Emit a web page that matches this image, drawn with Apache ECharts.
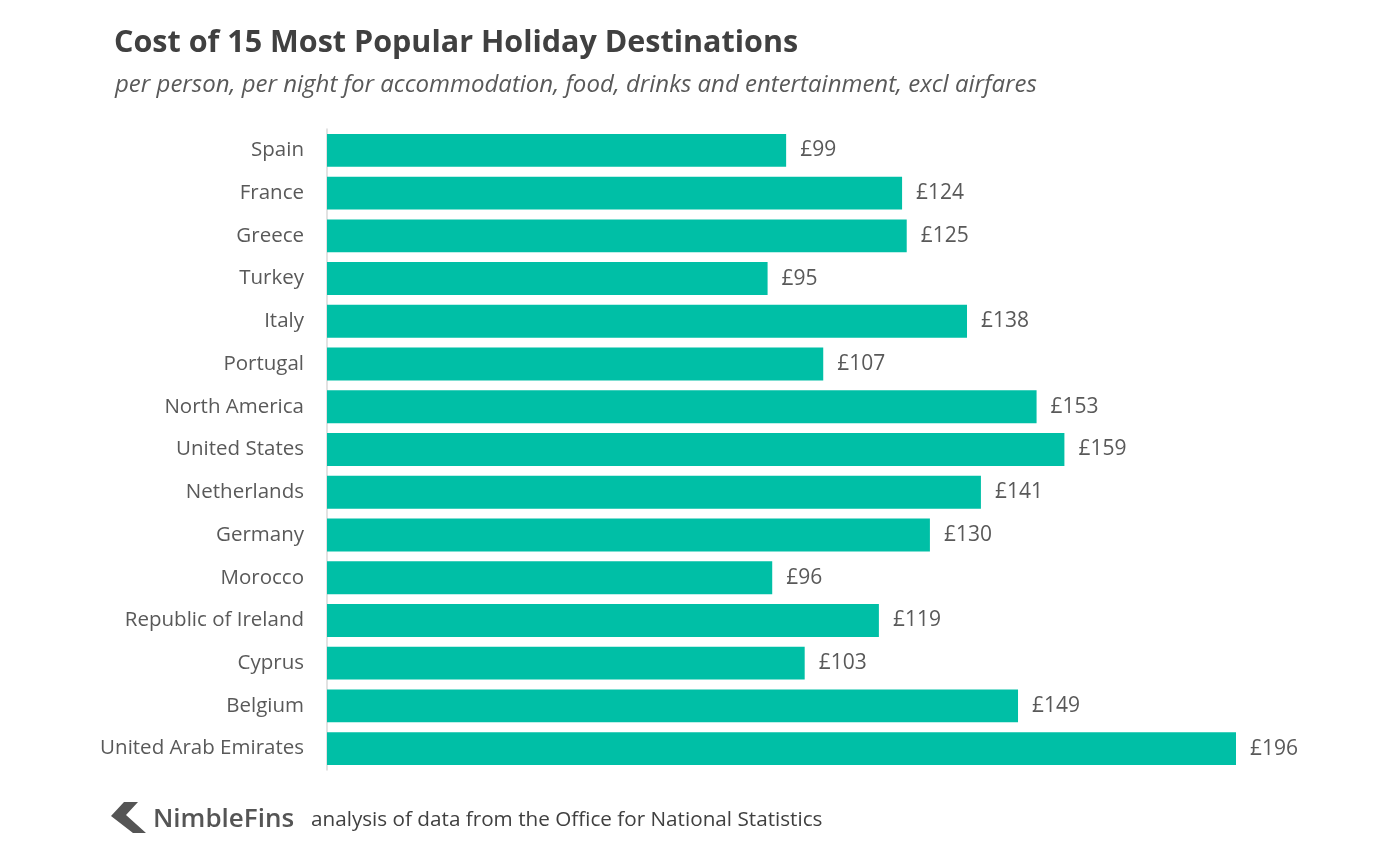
<!DOCTYPE html>
<html>
<head>
<meta charset="utf-8">
<style>
  html, body { margin: 0; padding: 0; background: #fff; }
  #chart { width: 1400px; height: 852px; }
</style>
<script src="https://cdn.jsdelivr.net/npm/echarts@6/dist/echarts.min.js"></script>
</head>
<body>
<div id="chart"></div>
<script>
  // destinations, top to bottom as shown
  var countries = ['Spain', 'France', 'Greece', 'Turkey', 'Italy', 'Portugal', 'North America',
    'United States', 'Netherlands', 'Germany', 'Morocco', 'Republic of Ireland', 'Cyprus',
    'Belgium', 'United Arab Emirates'];
  // £ per person per night
  var costs = [99, 124, 125, 95, 138, 107, 153, 159, 141, 130, 96, 119, 103, 149, 196];

  var font = '"Open Sans", Lato, sans-serif';
  var myChart = echarts.init(document.getElementById('chart'));

  var option = {
    backgroundColor: '#fff',
    animation: false,
    title: [{
      text: 'Cost of 15 Most Popular Holiday Destinations',
      left: 109,
      top: 23,
      textStyle: { color: '#404040', fontSize: 30.5, fontWeight: 'bold', fontFamily: font }
    }, {
      text: 'per person, per night for accommodation, food, drinks and entertainment, excl airfares',
      left: 110,
      top: 68,
      textStyle: { color: '#595959', fontSize: 24, fontStyle: 'italic', fontWeight: 'normal', fontFamily: font }
    }],
    grid: {
      left: 327,
      top: 129,
      width: 909,
      height: 641,
      containLabel: false
    },
    xAxis: {
      type: 'value',
      min: 0,
      max: 196,
      show: false
    },
    yAxis: {
      type: 'category',
      data: countries,
      inverse: true,
      axisLine: { show: true, lineStyle: { color: '#d9d9d9', width: 1.5 } },
      axisTick: { show: false },
      axisLabel: {
        color: '#595959',
        fontSize: 20.5,
        fontFamily: font,
        margin: 23
      }
    },
    series: [{
      type: 'bar',
      data: costs,
      barWidth: '77%',
      itemStyle: { color: '#00bfa6' },
      label: {
        show: true,
        position: 'right',
        distance: 14,
        color: '#595959',
        fontSize: 21,
        fontFamily: font,
        formatter: function (p) { return '£' + p.value; }
      }
    }],
    graphic: [{
      type: 'polygon',
      shape: { points: [[124, 802], [138, 802], [126, 815], [146, 833], [133, 833], [111, 816]] },
      style: { fill: '#555' }
    }, {
      type: 'text',
      left: 153,
      top: 807,
      style: { text: 'NimbleFins', fill: '#555', font: '600 26px ' + font }
    }, {
      type: 'text',
      left: 311,
      top: 810,
      style: { text: 'analysis of data from the Office for National Statistics', fill: '#404040', font: '20.7px ' + font }
    }]
  };

  myChart.setOption(option);
</script>
</body>
</html>
